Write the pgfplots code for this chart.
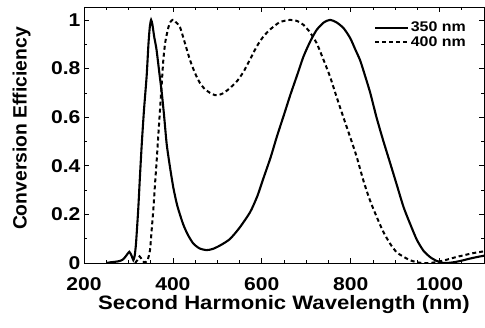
\documentclass[border=0pt]{standalone}
\usepackage{pgfplots}
\pgfplotsset{compat=1.18}
\usepackage{fontspec}
\setmainfont{Liberation Sans}[FakeStretch=1.14]
\newfontfamily\ylabfont{Liberation Sans}
\begin{document}
\begin{tikzpicture}
\useasboundingbox (-84pt,-65pt) rectangle (401pt,263pt);
\begin{axis}[
  at={(0pt,0pt)}, anchor=south west,
  scale only axis, width=400pt, height=256pt,
  xmin=200, xmax=1100, ymin=0, ymax=1.053,
  xtick={200,400,600,800,1000}, xticklabels={200,400,600,800,1000},
  minor xtick={250,300,350,450,500,550,650,700,750,850,900,950,1050},
  ytick={0,0.2,0.4,0.6,0.8,1}, yticklabels={0,0.2,0.4,0.6,0.8,1},
  minor ytick={0.1,0.3,0.5,0.7,0.9},
  tick align=inside, major tick length=5pt, minor tick length=3pt,
  tick style={black, line width=0.6pt},
  axis line style={line width=0.8pt},
  /pgf/number format/assume math mode=true,
  ticklabel style={font=\fontsize{18.5}{20}\selectfont\bfseries},
  xticklabel style={yshift=-11pt},
  xlabel={Second Harmonic Wavelength (nm)},
  xlabel style={font=\fontsize{19.4}{21}\selectfont\bfseries, at={(axis description cs:0.5,-0.163)}, anchor=center},
  ylabel={\ylabfont\bfseries Conversion Efficiency},
  ylabel style={font=\fontsize{19.3}{21}\selectfont, at={(axis description cs:-0.156,0.525)}, anchor=center},
  legend style={draw=none, fill=none, at={(axis description cs:0.725,0.948)}, anchor=north west,
    font=\fontsize{14}{16}\selectfont\bfseries, inner sep=0pt, row sep=0pt,
    nodes={inner sep=1.5pt}},
  legend cell align=left,
  legend image code/.code={\draw[#1] (0pt,0pt) -- (33pt,0pt);},
]
\addplot[black, line width=2.1pt, smooth, tension=0.4] coordinates {
(250,0.0) (260,0.003) (270,0.005) (280,0.008) (288,0.015) (295,0.03) (302,0.046)
(307,0.03) (311,0.012) (314,0.03) (317,0.08) (322,0.22) (326,0.36) (330,0.49)
(335,0.63) (341,0.77) (345,0.9) (348,0.97) (351,1.0) (354,0.98) (358,0.93)
(363,0.88) (369,0.79) (375,0.70) (380,0.61) (386,0.49) (393,0.40) (401,0.31)
(410,0.235) (423,0.16) (434,0.115) (446,0.08) (460,0.06) (476,0.053) (490,0.058)
(506,0.072) (528,0.098) (550,0.145) (574,0.21) (590,0.275) (604,0.35) (620,0.435)
(634,0.52) (650,0.61) (664,0.69) (680,0.775) (694,0.85) (710,0.915) (724,0.96)
(740,0.99) (754,1.0) (768,0.99) (784,0.966) (799,0.925) (810,0.88) (821,0.835)
(829,0.79) (844,0.70) (858,0.60) (873,0.505) (889,0.41) (904,0.32) (919,0.23)
(934,0.16) (949,0.095) (964,0.05) (979,0.024) (994,0.008) (1008,0.0) (1023,0.001)
(1038,0.005) (1053,0.011) (1068,0.018) (1083,0.024) (1100,0.03)
};
\addlegendentry{350 nm}
\addplot[black, line width=2pt, dash pattern=on 4pt off 3pt, smooth, tension=0.4] coordinates {
(315,0.0) (320,0.012) (325,0.027) (330,0.015) (335,0.003) (340,0.005) (343,0.01)
(348.5,0.053) (352,0.13) (356,0.22) (360,0.33) (363.5,0.42) (367,0.52) (371,0.63)
(375,0.74) (378.5,0.835) (383,0.91) (390,0.97) (395,0.993) (400,1.0) (407,0.99)
(416,0.97) (427,0.905) (438.5,0.835) (450,0.78) (461,0.74) (472,0.715) (483.5,0.70)
(495,0.69) (502,0.69) (515,0.70) (528.5,0.72) (543,0.745) (558.5,0.785) (573,0.835)
(588.5,0.89) (603,0.93) (618.5,0.96) (640,0.99) (663.5,1.0) (680,0.995) (693.5,0.98)
(708,0.95) (723.5,0.904) (738,0.84) (753.5,0.767) (768,0.685) (783.5,0.60)
(798.5,0.52) (813.5,0.437) (828.5,0.34) (843,0.26) (858.5,0.19) (873,0.13)
(888.5,0.08) (903,0.045) (918.5,0.026) (933,0.012) (948.5,0.003) (963,0.0)
(978.5,0.0) (993,0.004) (1008.5,0.01) (1023,0.017) (1038.5,0.025) (1053,0.031)
(1068.5,0.038) (1083,0.043) (1100,0.048)
};
\addlegendentry{400 nm}
\end{axis}
\end{tikzpicture}
\end{document}
